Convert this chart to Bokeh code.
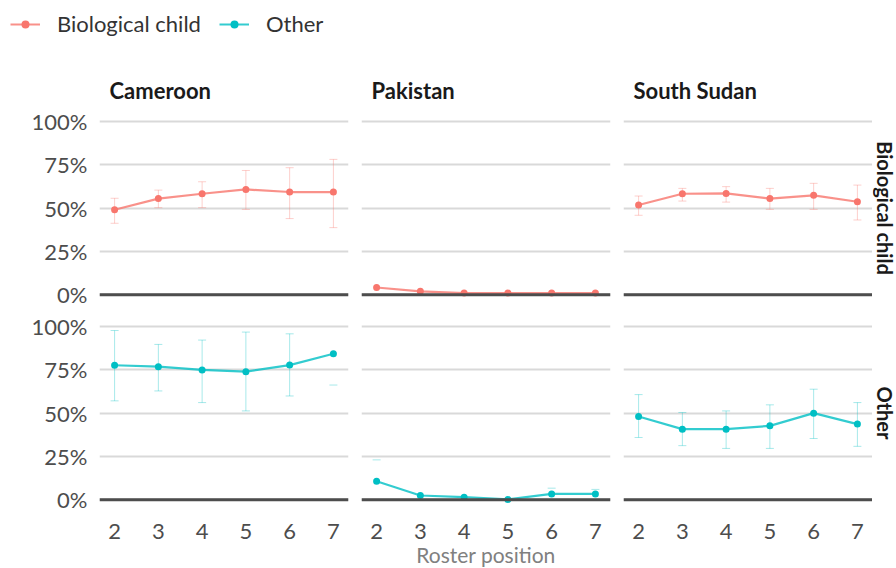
import math

from bokeh.embed import file_html
from bokeh.layouts import column, row
from bokeh.models import (ColumnDataSource, FixedTicker, Grid, Label, Legend,
                          LegendItem, LinearAxis, PrintfTickFormatter, Range1d,
                          Span)
from bokeh.plotting import figure
from bokeh.resources import INLINE

NAN = float("nan")

# ---- data: share of roster members (%) by roster position ----
positions = [2, 3, 4, 5, 6, 7]
countries = ["Cameroon", "Pakistan", "South Sudan"]
relations = ["Biological child", "Other"]

cameroon_bio = [49.0, 55.4, 58.2, 60.7, 59.2, 59.2]
cameroon_bio_lo = [41.2, 50.2, 50.2, 49.2, 43.9, 38.7]
cameroon_bio_hi = [55.6, 60.3, 65.1, 71.6, 73.2, 78.0]

cameroon_other = [77.5, 76.7, 74.8, 73.8, 77.6, 84.1]
cameroon_other_lo = [57.0, 62.7, 56.0, 51.2, 59.8, 66.1]
cameroon_other_hi = [97.5, 89.5, 92.0, 96.6, 95.6, NAN]

pakistan_bio = [4.2, 2.0, 1.0, 1.0, 1.0, 1.0]
pakistan_bio_lo = [NAN, NAN, NAN, NAN, NAN, NAN]
pakistan_bio_hi = [NAN, NAN, NAN, NAN, NAN, NAN]

pakistan_other = [10.7, 2.5, 1.5, 0.2, 3.4, 3.4]
pakistan_other_lo = [NAN, NAN, NAN, NAN, NAN, NAN]
pakistan_other_hi = [23.0, NAN, NAN, NAN, 6.7, 6.0]

south_sudan_bio = [51.7, 58.2, 58.4, 55.4, 57.3, 53.6]
south_sudan_bio_lo = [45.8, 54.0, 53.4, 49.2, 49.2, 43.1]
south_sudan_bio_hi = [56.9, 61.3, 62.3, 61.3, 64.2, 63.2]

south_sudan_other = [48.0, 40.7, 40.7, 42.6, 49.9, 43.6]
south_sudan_other_lo = [35.9, 31.2, 29.6, 29.6, 35.3, 30.8]
south_sudan_other_hi = [60.6, 50.3, 51.2, 54.7, 63.7, 56.0]

y_ticks = [0, 25, 50, 75, 100]

series = {
    ("Cameroon", "Biological child"): (cameroon_bio, cameroon_bio_lo, cameroon_bio_hi),
    ("Cameroon", "Other"): (cameroon_other, cameroon_other_lo, cameroon_other_hi),
    ("Pakistan", "Biological child"): (pakistan_bio, pakistan_bio_lo, pakistan_bio_hi),
    ("Pakistan", "Other"): (pakistan_other, pakistan_other_lo, pakistan_other_hi),
    ("South Sudan", "Biological child"): (south_sudan_bio, south_sudan_bio_lo, south_sudan_bio_hi),
    ("South Sudan", "Other"): (south_sudan_other, south_sudan_other_lo, south_sudan_other_hi),
}

# ---- styling ----
COLORS = {"Biological child": "#F8766D", "Other": "#00BFC4"}
FONT = "Lato"
TICK_COLOR = "#4d4d4d"
STRIP_COLOR = "#1a1a1a"
GRID_COLOR = "#d9d9d9"
ZERO_COLOR = "#4d4d4d"

X_LO, X_HI = 1.655, 7.345
Y_LO, Y_HI = -5, 105
FRAME_W, FRAME_H = 249, 191
STRIP_W = 24

# borders per column (left, right) and per row (top, bottom)
COL_BORDERS = [(99, 6), (7, 6), (7, 0)]
ROW_BORDERS = [(54, 7), (7, 60)]


def bare_figure(frame_w, bl, br, bt, bb, x_range, y_range):
    p = figure(frame_width=frame_w, frame_height=FRAME_H,
               x_range=x_range, y_range=y_range,
               x_axis_location=None, y_axis_location=None,
               toolbar_location=None, output_backend="svg",
               min_border_left=bl, min_border_right=br,
               min_border_top=bt, min_border_bottom=bb)
    p.outline_line_color = None
    p.background_fill_color = "white"
    p.border_fill_color = "white"
    p.grid.visible = False
    return p


def make_panel(ci, ri):
    country = countries[ci]
    relation = relations[ri]
    color = COLORS[relation]
    mean, lo, hi = series[(country, relation)]
    bl, br = COL_BORDERS[ci]
    bt, bb = ROW_BORDERS[ri]

    p = bare_figure(FRAME_W, bl, br, bt, bb,
                    Range1d(X_LO, X_HI), Range1d(Y_LO, Y_HI))
    p.add_layout(Grid(dimension=1, ticker=FixedTicker(ticks=y_ticks),
                      grid_line_color=GRID_COLOR, grid_line_width=2))

    src = ColumnDataSource(dict(x=positions, y=mean, lo=lo, hi=hi))

    # interval bars with caps
    p.segment(x0="x", y0="lo", x1="x", y1="hi", source=src,
              line_color=color, line_alpha=0.35, line_width=1)
    p.scatter(x="x", y="lo", source=src, marker="dash", size=8,
              line_color=color, line_alpha=0.35, line_width=1)
    p.scatter(x="x", y="hi", source=src, marker="dash", size=8,
              line_color=color, line_alpha=0.35, line_width=1)

    p.line(x="x", y="y", source=src, line_color=color, line_width=2.2,
           line_alpha=0.8)
    p.add_layout(Span(location=0, dimension="width", line_color=ZERO_COLOR,
                      line_width=3))
    p.scatter(x="x", y="y", source=src, size=7, fill_color=color,
              line_color=None)

    # column strip on top
    if ri == 0:
        p.title.text = country
        p.title.text_font = FONT
        p.title.text_font_size = "22px"
        p.title.text_font_style = "bold"
        p.title.text_color = STRIP_COLOR
        p.title.align = "left"
        p.title.offset = 10
        p.title.standoff = 17

    if ci == 0:
        ay = LinearAxis(ticker=FixedTicker(ticks=y_ticks),
                        formatter=PrintfTickFormatter(format="%d%%"),
                        axis_line_color=None, major_tick_line_color=None,
                        minor_tick_line_color=None,
                        major_tick_out=0, major_tick_in=0,
                        major_label_text_font=FONT,
                        major_label_text_font_size="22px",
                        major_label_text_color=TICK_COLOR,
                        major_label_standoff=12)
        p.add_layout(ay, "left")

    if ri == len(relations) - 1:
        ax = LinearAxis(ticker=FixedTicker(ticks=positions),
                        axis_line_color=None, major_tick_line_color=None,
                        minor_tick_line_color=None,
                        major_tick_out=0, major_tick_in=0,
                        major_label_text_font=FONT,
                        major_label_text_font_size="22px",
                        major_label_text_color=TICK_COLOR,
                        major_label_standoff=15)
        if ci == 1:
            ax.axis_label = "Roster position"
            ax.axis_label_text_font = FONT
            ax.axis_label_text_font_size = "21px"
            ax.axis_label_text_font_style = "normal"
            ax.axis_label_text_color = "#808080"
            ax.axis_label_standoff = 0
        p.add_layout(ax, "below")
    return p


def make_row_strip(ri):
    bt, bb = ROW_BORDERS[ri]
    s = bare_figure(STRIP_W, 0, 0, bt, bb, Range1d(0, 1), Range1d(Y_LO, Y_HI))
    s.add_layout(Label(x=0.5, y=(Y_LO + Y_HI) / 2, text=relations[ri],
                       angle=-math.pi / 2, text_align="center",
                       text_baseline="middle", text_font=FONT,
                       text_font_size="20px", text_font_style="bold",
                       text_color=STRIP_COLOR))
    return s


# ---- legend strip ----
lf = figure(width=896, height=58, x_range=Range1d(0, 1), y_range=Range1d(0, 1),
            x_axis_location=None, y_axis_location=None,
            toolbar_location=None, output_backend="svg", min_border=0)
lf.outline_line_color = None
lf.grid.visible = False
items = []
for rel in relations:
    # off-canvas keys: only their styling is used for the legend glyphs
    key = ColumnDataSource(dict(x=[NAN], y=[NAN]))
    r_line = lf.line("x", "y", source=key, line_color=COLORS[rel],
                     line_width=2, line_alpha=0.8)
    r_pt = lf.scatter("x", "y", source=key, size=6, fill_color=COLORS[rel],
                      line_color=None)
    items.append(LegendItem(label=rel, renderers=[r_line, r_pt]))
legend = Legend(items=items, orientation="horizontal", location="top_left",
                label_text_font=FONT, label_text_font_size="22px",
                label_text_color="#333333", glyph_width=30, glyph_height=20,
                label_standoff=17, spacing=18, padding=0, margin=10,
                border_line_color=None, background_fill_alpha=0)
lf.add_layout(legend)

rows = []
for ri in range(len(relations)):
    panels = [make_panel(ci, ri) for ci in range(len(countries))]
    rows.append(row(panels + [make_row_strip(ri)], spacing=0))

layout = column([lf] + rows, spacing=0)

with open("out.html", "w") as f:
    f.write(file_html(layout, INLINE))
